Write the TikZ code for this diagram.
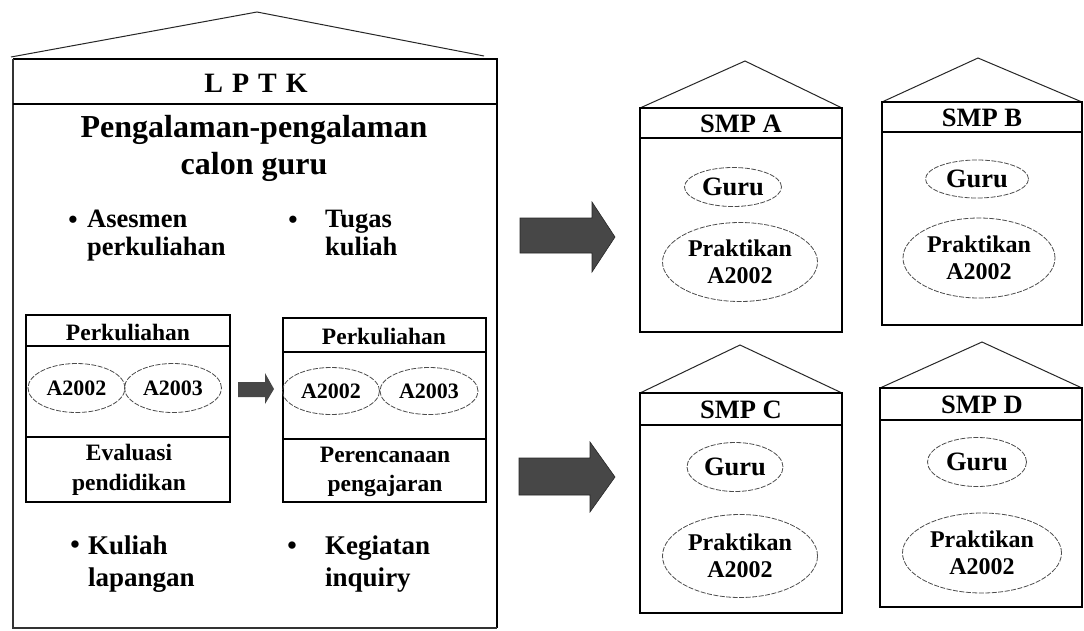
\documentclass[tikz,border=0pt]{standalone}
\usepackage{fontspec}
\setmainfont{Liberation Serif}
\usetikzlibrary{shapes.geometric}
\newcommand\myfs[2]{\fontsize{#1pt}{#2pt}\selectfont\bfseries}
\tikzset{
  boxline/.style={line width=2.6pt, line cap=rect},
  thinedge/.style={line width=1.5pt},
  roofline/.style={line width=1pt, black!85},
  oval/.style={ellipse, draw=black!70, line width=0.8pt, dash pattern=on 5pt off 1.5pt, inner sep=0pt, align=center},
  txt/.style={inner sep=0pt, align=center},
  bullet/.style={inner sep=0pt, anchor=base},
  bigarrow/.style={fill=black!72, draw=black!85, line width=0.6pt},
}
\begin{document}
\begin{tikzpicture}[x=1pt,y=-1pt]
\useasboundingbox (0,0) rectangle (1084,630);
\fill[white] (0,0) rectangle (1084,630);

% ---------------- LPTK house ----------------
\coordinate (Lroofl) at (11,57);
\coordinate (Lapex) at (257,12);
\coordinate (Lroofr) at (484,56);
\draw[roofline] (Lroofl) -- (Lapex) -- (Lroofr);
\draw[line width=2.2pt] (13,59) -- (497,59) -- (497,628);
\draw[line width=1.8pt, black!80] (13,59) -- (13,628) -- (497,628);
\draw[line width=2.8pt] (13,104) -- (497,104);

\node[txt, font=\myfs{28}{28}] (lptk) at (256,83) {L\hspace{9pt}P\hspace{9pt}T\hspace{9pt}K};
\node[txt, font=\myfs{32}{37}] (peng) at (254,148) {Pengalaman-pengalaman\\calon guru};

\node[bullet, font=\myfs{26.5}{28}] (d1) at (73,228) {•};
\node[txt, align=left, anchor=west, font=\myfs{26.5}{28}] (t1) at (87,236) {Asesmen\\perkuliahan};
\node[bullet, font=\myfs{26.5}{28}] (d2) at (293,228) {•};
\node[txt, align=left, anchor=west, font=\myfs{26.5}{28}] (t2) at (325,233) {Tugas\\kuliah};

\node[bullet, font=\myfs{27}{32}] (d3) at (75,553) {•};
\node[txt, align=left, anchor=west, font=\myfs{27}{32}] (t3) at (88,564) {Kuliah\\lapangan};
\node[bullet, font=\myfs{27}{32}] (d4) at (292,554) {•};
\node[txt, align=left, anchor=west, font=\myfs{27}{32}] (t4) at (325,564) {Kegiatan\\inquiry};

% inner box 1
\draw[boxline] (26,315) rectangle (230,502);
\draw[boxline] (26,346) -- (230,346);
\draw[boxline] (26,437) -- (230,437);
\node[txt, font=\myfs{23.5}{29}] (perk1) at (128,332) {Perkuliahan};
\node[oval, minimum width=97, minimum height=49, font=\myfs{22}{22}] (e11) at (76.5,388) {A2002};
\node[oval, minimum width=97, minimum height=49, font=\myfs{22}{22}] (e12) at (173,388) {A2003};
\node[txt, font=\myfs{23.5}{30}] (eval) at (129,470) {Evaluasi\\pendidikan};

% inner box 2
\draw[boxline] (283,318) rectangle (486,502);
\draw[boxline] (283,352) -- (486,352);
\draw[boxline] (283,439) -- (486,439);
\node[txt, font=\myfs{23.5}{29}] (perk2) at (384,336) {Perkuliahan};
\node[oval, minimum width=97, minimum height=47, font=\myfs{22}{22}] (e21) at (331,391) {A2002};
\node[oval, minimum width=98, minimum height=47, font=\myfs{22}{22}] (e22) at (429,391) {A2003};
\node[txt, font=\myfs{23.5}{29}] (renc) at (385,472) {Perencanaan\\pengajaran};

% small arrow
\fill[black!72] (238,382) -- (265,382) -- (265,373) -- (274,389) -- (265,404) -- (265,397) -- (238,397) -- cycle;

% big arrows
\filldraw[bigarrow] (520,218) -- (592,218) -- (592,202) -- (615,237) -- (592,272) -- (592,253) -- (520,253) -- cycle;
\filldraw[bigarrow] (519,458) -- (590,458) -- (590,442) -- (615,477) -- (590,512) -- (590,495) -- (519,495) -- cycle;

% ---------------- SMP A ----------------
\draw[roofline] (640,108) -- (745,61) -- (842,108);
\draw[thinedge] (640,108) -- (842,108);
\draw[boxline] (640,108) -- (640,332) -- (842,332) -- (842,108);
\draw[boxline] (640,138) -- (842,138);
\node[txt, font=\myfs{26.5}{27}] (smpa) at (741,123.5) {SMP A};
\node[oval, minimum width=97, minimum height=39, font=\myfs{26.5}{27}] (gurua) at (733,187) {Guru};
\node[oval, minimum width=155, minimum height=79, font=\myfs{24}{27}] (praka) at (740,262) {Praktikan\\A2002};

% ---------------- SMP B ----------------
\draw[roofline] (882,102) -- (978,58) -- (1082,102);
\draw[thinedge] (882,102) -- (1082,102);
\draw[boxline] (882,102) -- (882,325) -- (1082,325) -- (1082,102);
\draw[boxline] (882,132) -- (1082,132);
\node[txt, font=\myfs{26.5}{27}] (smpb) at (982,117.5) {SMP B};
\node[oval, minimum width=103, minimum height=38, font=\myfs{26.5}{27}] (gurub) at (977,179) {Guru};
\node[oval, minimum width=152, minimum height=80, font=\myfs{24}{27}] (prakb) at (979,258) {Praktikan\\A2002};

% ---------------- SMP C ----------------
\draw[roofline] (640,393) -- (740,345) -- (842,393);
\draw[thinedge] (640,393) -- (842,393);
\draw[boxline] (640,393) -- (640,613) -- (842,613) -- (842,393);
\draw[boxline] (640,425) -- (842,425);
\node[txt, font=\myfs{26.5}{27}] (smpc) at (741,409.5) {SMP C};
\node[oval, minimum width=96, minimum height=49, font=\myfs{26.5}{27}] (guruc) at (735,467) {Guru};
\node[oval, minimum width=155, minimum height=83, font=\myfs{24}{27}] (prakc) at (740,556) {Praktikan\\A2002};

% ---------------- SMP D ----------------
\draw[roofline] (880,388) -- (982,342) -- (1082,388);
\draw[thinedge] (880,388) -- (1082,388);
\draw[boxline] (880,388) -- (880,607) -- (1082,607) -- (1082,388);
\draw[boxline] (880,420) -- (1082,420);
\node[txt, font=\myfs{26.5}{27}] (smpd) at (982,404.5) {SMP D};
\node[oval, minimum width=99, minimum height=49, font=\myfs{26.5}{27}] (gurud) at (977,462) {Guru};
\node[oval, minimum width=159, minimum height=80, font=\myfs{24}{27}] (prakd) at (982,553) {Praktikan\\A2002};
\end{tikzpicture}
\end{document}
